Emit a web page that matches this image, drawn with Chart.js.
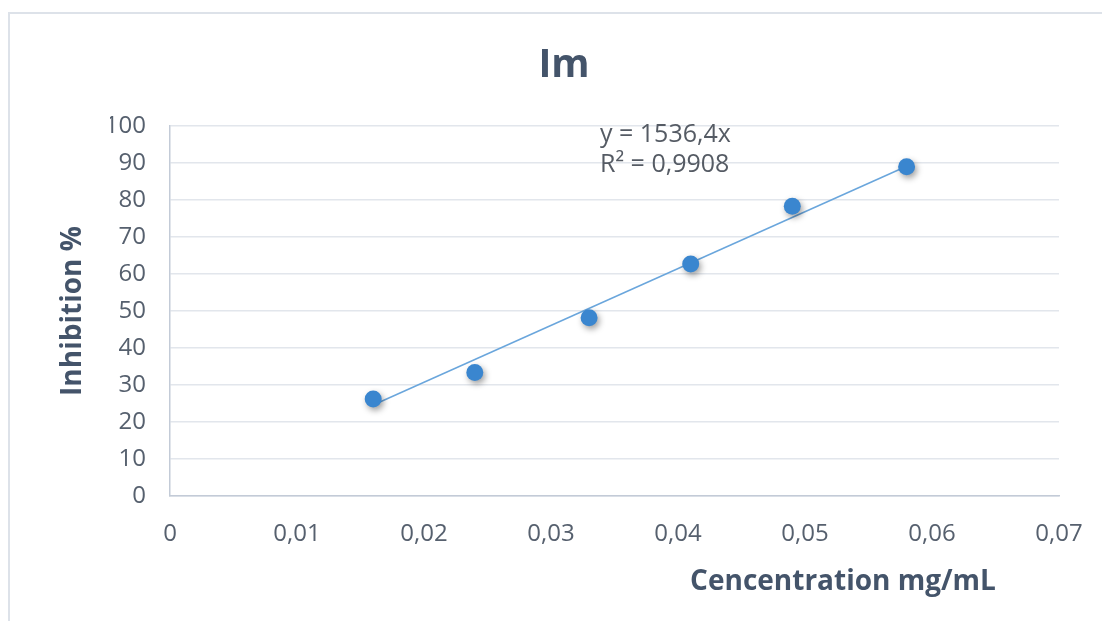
<!DOCTYPE html>
<html>
<head>
<meta charset="utf-8">
<script src="https://cdn.jsdelivr.net/npm/chart.js@4/dist/chart.umd.min.js"></script>
<style>
  html, body { margin: 0; padding: 0; background: #ffffff; }
  #wrap { width: 1102px; height: 621px; }
</style>
</head>
<body>
<div id="wrap"><canvas id="c" width="1102" height="621"></canvas></div>
<script>
// Concentration (mg/mL) and measured inhibition (%)
const concentration = [0.016, 0.024, 0.033, 0.041, 0.049, 0.058];
const inhibition = [26.2, 33.4, 48.2, 62.7, 78.3, 89.0];

// Linear fit through the origin, as printed on the chart
const slope = 1536.4;
const equationLines = ['y = 1536,4x', 'R\u00B2 = 0,9908'];

// Axis ticks
const xTickValues = [0, 0.01, 0.02, 0.03, 0.04, 0.05, 0.06, 0.07];
const xTickLabels = ['0', '0,01', '0,02', '0,03', '0,04', '0,05', '0,06', '0,07'];
const yTickValues = [0, 10, 20, 30, 40, 50, 60, 70, 80, 90, 100];
const yTickLabels = ['0', '10', '20', '30', '40', '50', '60', '70', '80', '90', '100'];

const chartTitle = 'Im';
const xAxisTitle = 'Cencentration mg/mL';
const yAxisTitle = 'Inhibition %';

const FONT = '"Open Sans", "DejaVu Sans", sans-serif';
const TITLE_COLOR = '#44546a';
const TICK_COLOR = '#56606e';

// Trendline spans the measured concentration range
const xMin = Math.min(...concentration);
const xMax = Math.max(...concentration);
const trend = [{ x: xMin, y: slope * xMin }, { x: xMax, y: slope * xMax }];

const points = concentration.map((x, i) => ({ x: x, y: inhibition[i] }));

const decorations = {
  id: 'decorations',
  beforeDraw(chart) {
    const ctx = chart.ctx;
    ctx.save();
    ctx.strokeStyle = '#dde2e9';
    ctx.lineWidth = 2;
    ctx.beginPath();
    ctx.moveTo(9, chart.height);
    ctx.lineTo(9, 13);
    ctx.lineTo(chart.width, 13);
    ctx.stroke();
    ctx.restore();
  },
  beforeDatasetDraw(chart, args) {
    if (args.index === 1) {
      const ctx = chart.ctx;
      ctx.save();
      ctx.shadowColor = 'rgba(0,0,0,0.38)';
      ctx.shadowBlur = 6;
      ctx.shadowOffsetX = 2;
      ctx.shadowOffsetY = 3;
    }
  },
  afterDatasetDraw(chart, args) {
    if (args.index === 1) chart.ctx.restore();
  },
  afterDraw(chart) {
    const ctx = chart.ctx;
    const area = chart.chartArea;
    ctx.save();
    // Chart title
    ctx.fillStyle = TITLE_COLOR;
    ctx.font = 'bold 39px ' + FONT;
    ctx.textAlign = 'center';
    ctx.textBaseline = 'middle';
    ctx.fillText(chartTitle, 564, 66);

    // Axis titles
    ctx.font = 'bold 28px ' + FONT;
    ctx.fillText(xAxisTitle, 843, 582);
    ctx.save();
    ctx.translate(73, 311);
    ctx.rotate(-Math.PI / 2);
    ctx.fillText(yAxisTitle, 0, 0);
    ctx.restore();

    // Trendline equation
    ctx.fillStyle = '#555b64';
    ctx.font = '25px ' + FONT;
    ctx.textAlign = 'left';
    ctx.fillText(equationLines[0], area.left + 430, 135);
    ctx.fillText(equationLines[1], area.left + 430, 165);
    ctx.restore();
  }
};

new Chart(document.getElementById('c'), {
  type: 'scatter',
  data: {
    datasets: [
      {
        type: 'line',
        label: 'Linear fit',
        data: trend,
        borderColor: '#6aa6dc',
        borderWidth: 1.5,
        pointRadius: 0,
        fill: false,
        order: 2
      },
      {
        label: 'Im',
        data: points,
        backgroundColor: '#3a86cf',
        borderColor: '#3a86cf',
        borderWidth: 0,
        pointRadius: 8.5,
        pointHoverRadius: 8.5,
        order: 1
      }
    ]
  },
  plugins: [decorations],
  options: {
    responsive: false,
    animation: false,
    events: [],
    layout: { padding: { left: 110, right: 43, top: 126, bottom: 65 } },
    plugins: {
      legend: { display: false },
      title: { display: false },
      tooltip: { enabled: false }
    },
    scales: {
      x: {
        type: 'linear',
        min: 0,
        max: 0.07,
        afterBuildTicks(scale) { scale.ticks = xTickValues.map(v => ({ value: v })); },
        afterFit(scale) {
          scale.height = 60;
          scale.paddingLeft = 0;
          scale.paddingRight = 0;
        },
        grid: { display: false, drawTicks: false },
        border: { display: true, color: '#c3cbd7', width: 1.5 },
        ticks: {
          padding: 24,
          color: TICK_COLOR,
          font: { family: FONT, size: 24 },
          maxRotation: 0,
          autoSkip: false,
          callback(value, index) { return xTickLabels[index]; }
        }
      },
      y: {
        type: 'linear',
        min: 0,
        max: 100,
        afterBuildTicks(scale) { scale.ticks = yTickValues.map(v => ({ value: v })); },
        afterFit(scale) {
          scale.width = 60;
          scale.paddingTop = 0;
          scale.paddingBottom = 0;
        },
        grid: { color: '#e2e6ec', lineWidth: 1.5, drawTicks: false },
        border: { display: true, color: '#c3cbd7', width: 1.5 },
        ticks: {
          padding: 24,
          color: TICK_COLOR,
          font: { family: FONT, size: 24 },
          autoSkip: false,
          callback(value, index) { return yTickLabels[index]; }
        }
      }
    }
  }
});
</script>
</body>
</html>
